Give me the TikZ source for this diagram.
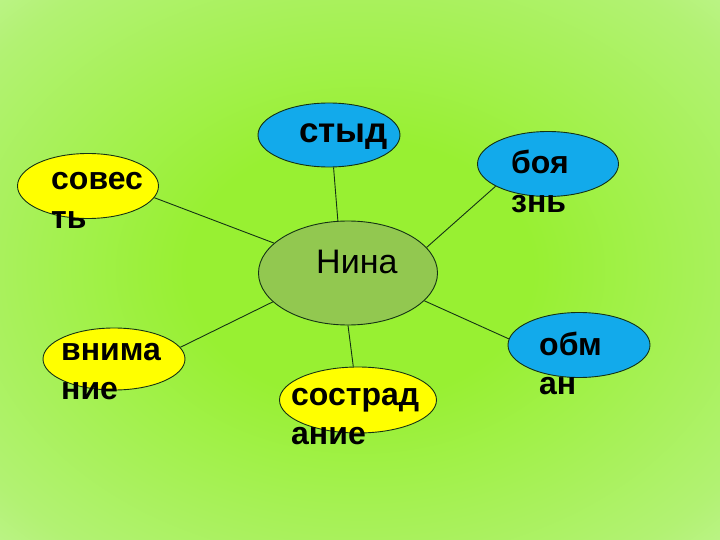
\documentclass[tikz,border=0pt]{standalone}
\usepackage{fontspec}
\setmainfont{Liberation Sans}
\usetikzlibrary{shapes.geometric}
\definecolor{fondclair}{RGB}{214,246,190}
\definecolor{fondmi}{RGB}{178,242,115}
\definecolor{fondvif}{RGB}{152,240,50}
\definecolor{bleu}{RGB}{18,170,235}
\definecolor{jaune}{RGB}{255,255,0}
\definecolor{olive}{RGB}{146,200,80}
\definecolor{trait}{RGB}{20,50,20}
\pgfdeclareradialshading{fond}{\pgfpoint{0bp}{0bp}}{color(0bp)=(fondvif); color(12bp)=(fondvif); color(32bp)=(fondmi); color(47bp)=(fondclair); color(50bp)=(fondclair)}

\begin{document}
\begin{tikzpicture}[x=1pt,y=-1pt]
\tikzset{ovale/.style={draw=trait, ellipse, line width=0.9pt, inner sep=0pt}}
\tikzset{mot/.style={font=\bfseries\fontsize{32}{39}\selectfont, align=left, anchor=base west, inner sep=0pt}}
\useasboundingbox (0,0) rectangle (720,540);
\shade[shading=fond] (0,0) rectangle (720,540);
\node[ovale, fill=olive, minimum width=179pt, minimum height=104pt] (N) at (348,273) {};
\node[ovale, fill=bleu, minimum width=142pt, minimum height=64pt] (E1) at (329,135) {};
\node[ovale, fill=bleu, minimum width=141pt, minimum height=65pt] (E2) at (548,164) {};
\node[ovale, fill=bleu, minimum width=142pt, minimum height=65pt] (E3) at (579,345) {};
\node[ovale, fill=jaune, minimum width=157pt, minimum height=66pt] (E4) at (358,400) {};
\node[ovale, fill=jaune, minimum width=142pt, minimum height=62pt] (E5) at (114,359) {};
\node[ovale, fill=jaune, minimum width=141pt, minimum height=65pt] (E6) at (88,186) {};
\draw[trait, line width=0.9pt] (N.101) -- (E1.278);
\draw[trait, line width=0.9pt] (N.18) -- (E2.203);
\draw[trait, line width=0.9pt] (N.340) -- (E3.175);
\draw[trait, line width=0.9pt] (N.270) -- (E4.98);
\draw[trait, line width=0.9pt] (N.201) -- (E5.10);
\draw[trait, line width=0.9pt] (N.158) -- (E6.350);
\node[mot, font=\fontsize{34}{40}\selectfont] (TN) at (316,273) {Нина};
\node[mot, font=\bfseries\fontsize{35}{40}\selectfont] (T1) at (299,143) {стыд};
\node[mot] (T2) at (511,212) {боя\\знь};
\node[mot] (T3) at (539,394) {обм\\ан};
\node[mot] (T4) at (291,444) {сострад\\ание};
\node[mot] (T5) at (61,399) {внима\\ние};
\node[mot] (T6) at (51,229) {совес\\ть};
\end{tikzpicture}
\end{document}
